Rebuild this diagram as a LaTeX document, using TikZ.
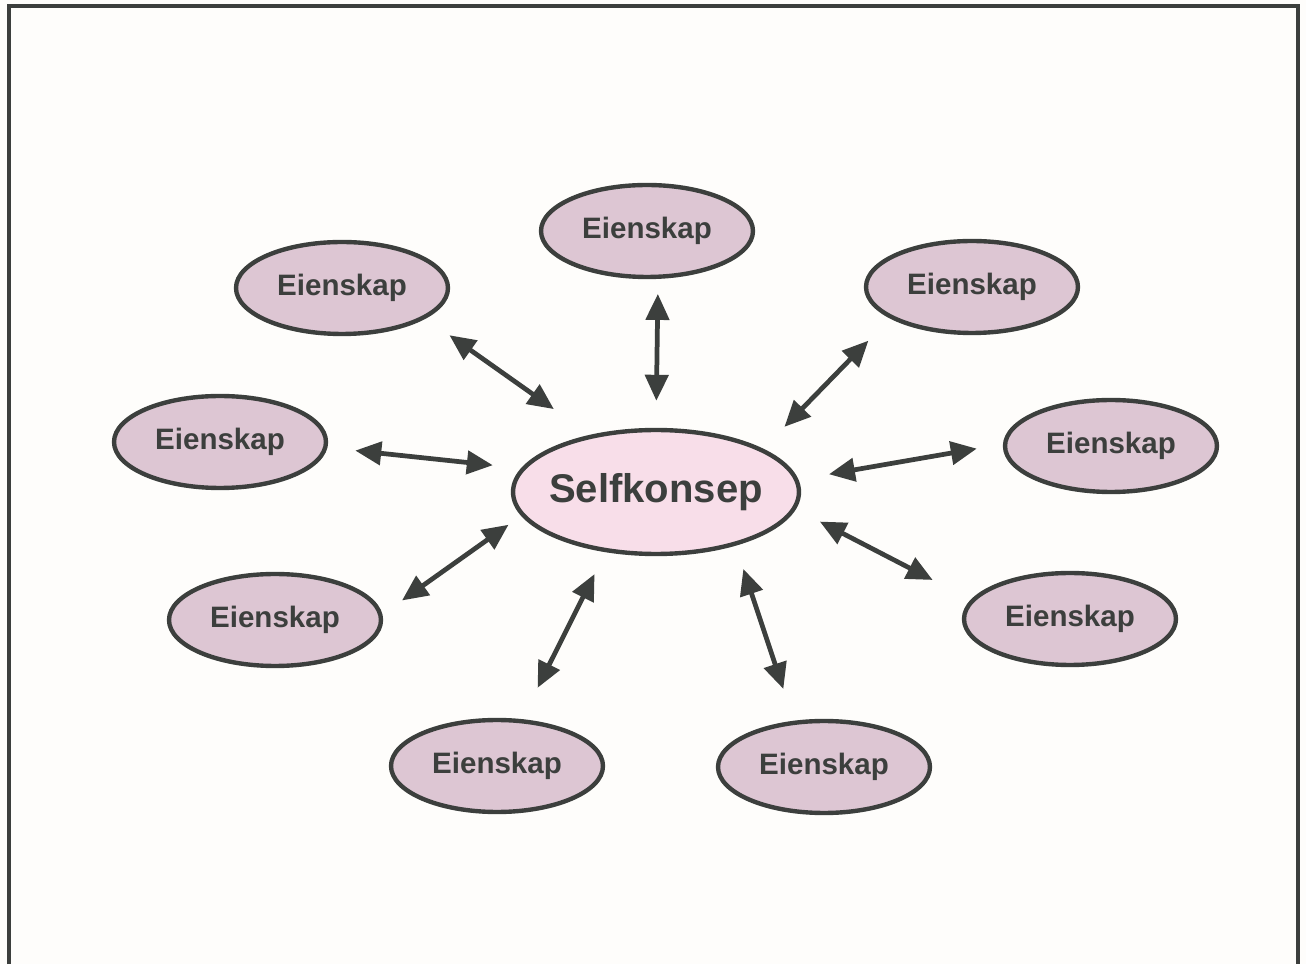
\documentclass[tikz,border=0pt]{standalone}
\usepackage{fontspec}
\setmainfont{Liberation Sans}
\usetikzlibrary{arrows.meta,shapes.geometric}
\definecolor{rim}{RGB}{60,63,61}
\definecolor{mauve}{RGB}{221,198,211}
\definecolor{blush}{RGB}{248,222,233}
\definecolor{paper}{RGB}{254,253,251}

\begin{document}
\begin{tikzpicture}[x=0.02cm, y=-0.02cm,
  every node/.style={ellipse, draw=rim, line width=2.5pt, inner sep=0pt, text=rim},
  prop/.style={fill=mauve, minimum width=4.24cm, minimum height=1.84cm, font=\fontsize{16.8}{20}\selectfont\bfseries},
  core/.style={fill=blush, inner xsep=-0.15cm, minimum width=5.72cm, minimum height=2.48cm, font=\fontsize{22.8}{27}\selectfont\bfseries},
  link/.style={{Triangle[length=0.52cm,width=0.46cm]}-{Triangle[length=0.52cm,width=0.46cm]}, line width=2.7pt, rim}]
\fill[paper] (0,0) rectangle (1306,964);
\draw[rim, line width=2.3pt] (9,964) -- (9,6) -- (1298,6) -- (1298,964);
\node[core] (C) at (656,492) {Selfkonsep};
\node[prop] (E1) at (647,231) {Eienskap};
\node[prop] (E2) at (342,288) {Eienskap};
\node[prop] (E3) at (972,287) {Eienskap};
\node[prop] (E4) at (220,442) {Eienskap};
\node[prop] (E5) at (1111,446) {Eienskap};
\node[prop] (E6) at (275,620) {Eienskap};
\node[prop] (E7) at (1070,619) {Eienskap};
\node[prop] (E8) at (497,766) {Eienskap};
\node[prop] (E9) at (824,767) {Eienskap};
\draw[link, shorten <=0.54cm, shorten >=0.30cm] (C.90) -- (E1.-77);
\draw[link, shorten <=0.89cm, shorten >=0.58cm] (C.139) -- (E2.-20);
\draw[link, shorten <=0.61cm, shorten >=0.62cm] (C.22) -- (E3.201);
\draw[link, shorten <=0.57cm, shorten >=0.56cm] (C.170) -- (E4.-3);
\draw[link, shorten <=0.62cm, shorten >=0.53cm] (C.5) -- (E5.179);
\draw[link, shorten <=0.31cm, shorten >=0.48cm] (C.190) -- (E6.3);
\draw[link, shorten <=0.54cm, shorten >=0.86cm] (C.-7) -- (E7.169);
\draw[link, shorten <=0.49cm, shorten >=0.70cm] (C.230) -- (E8.62);
\draw[link, shorten <=0.49cm, shorten >=0.67cm] (C.-34) -- (E9.123);
\end{tikzpicture}
\end{document}
